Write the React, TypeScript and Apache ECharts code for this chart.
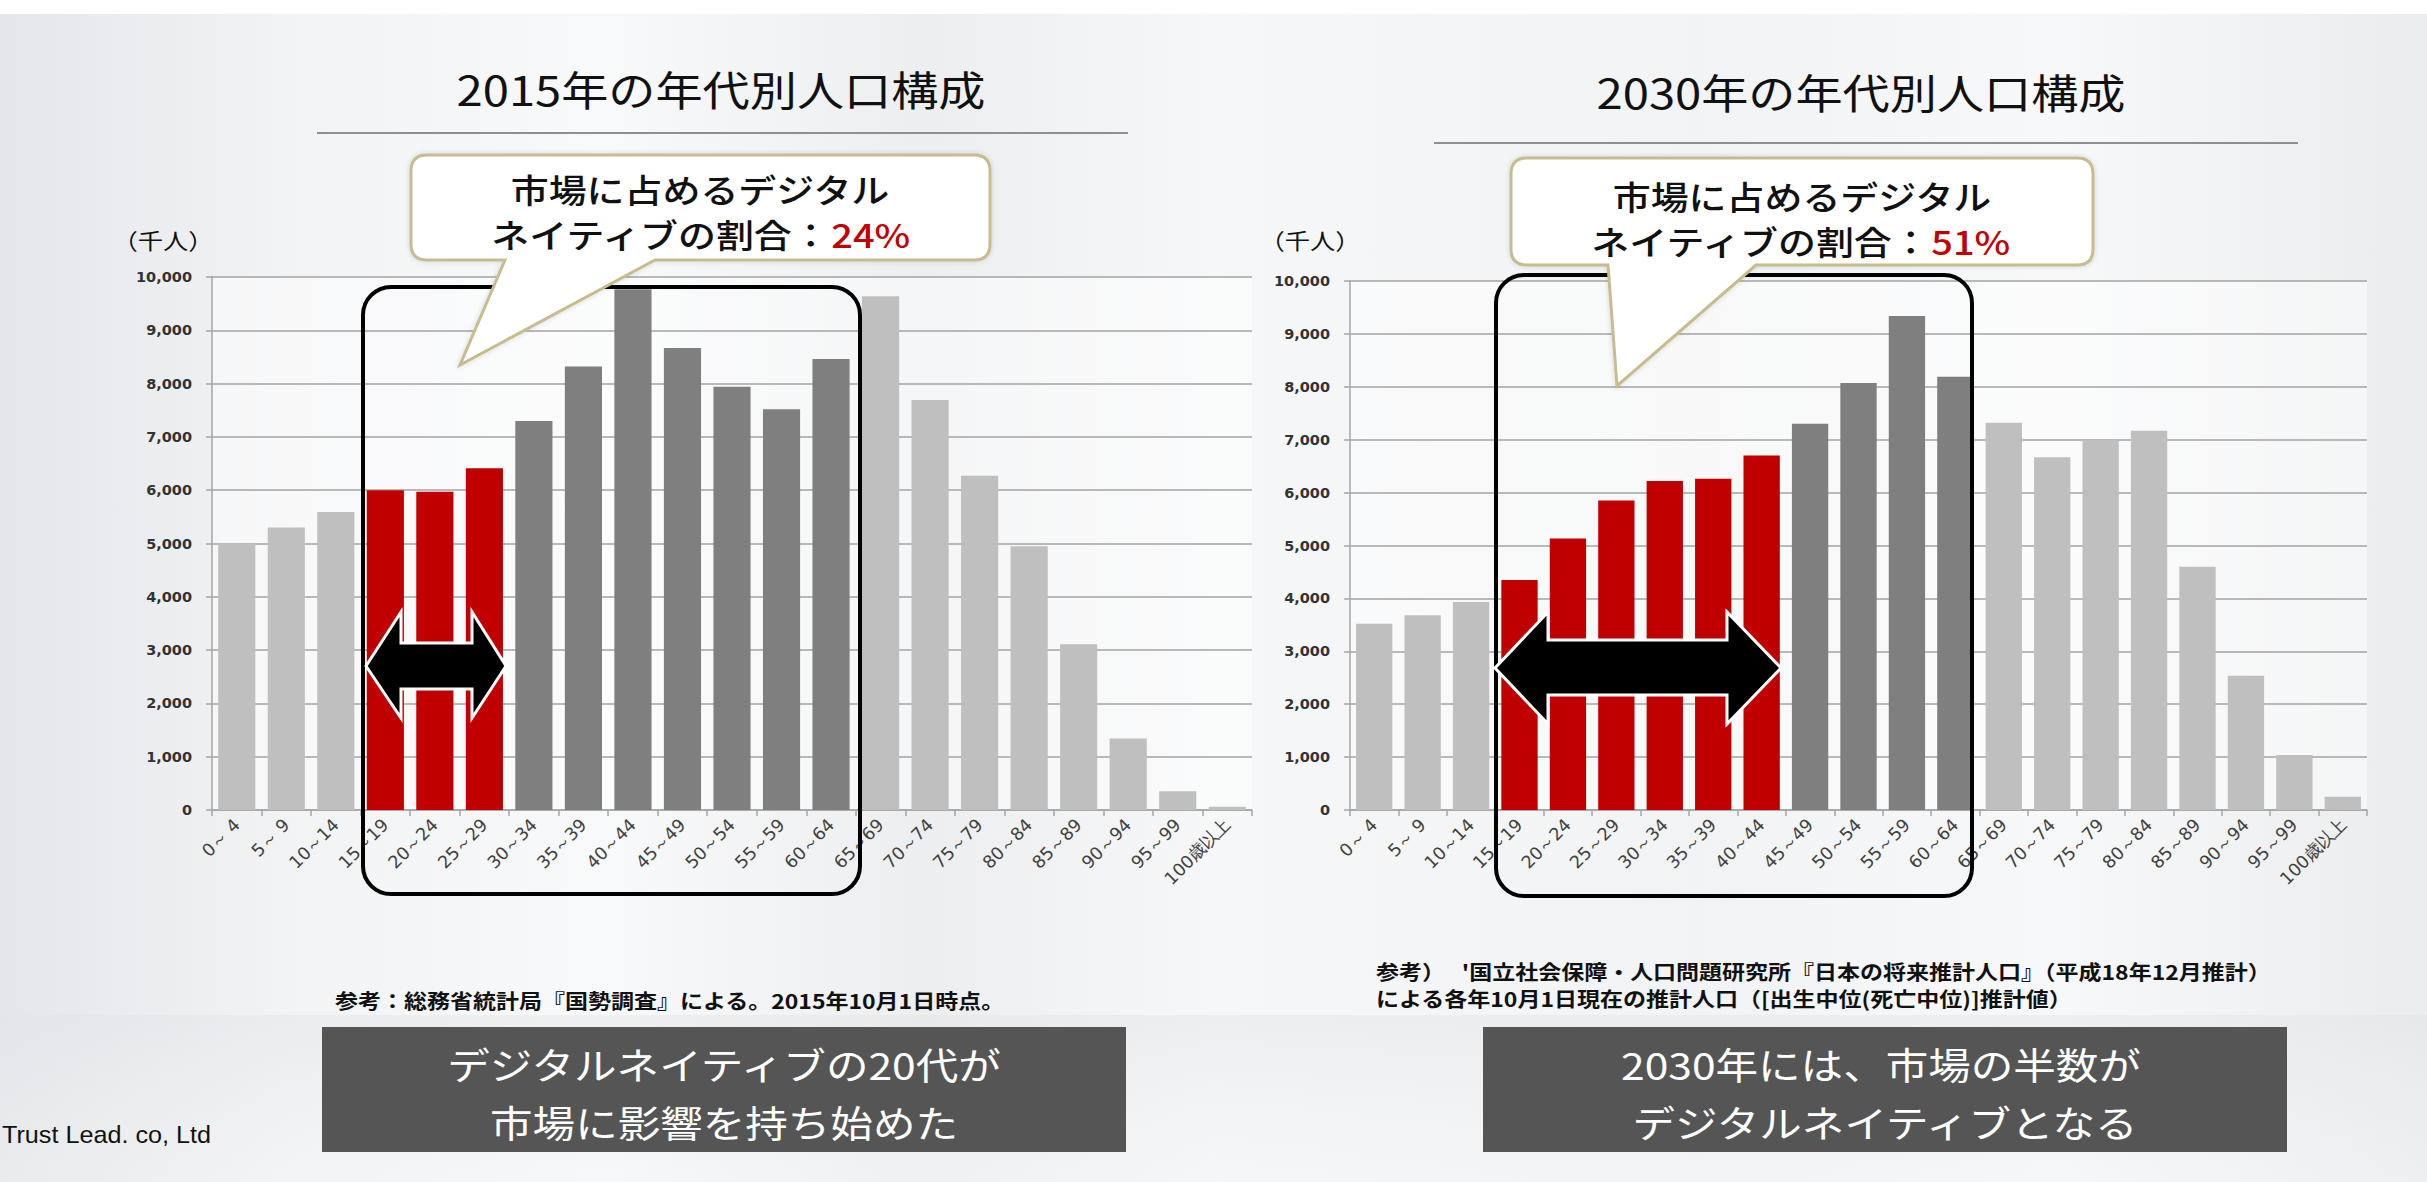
import React, { useEffect, useRef } from "react";
import * as echarts from "echarts";

// ---------- data ----------
const ageGroups = [
  "0～ 4", "5～ 9", "10～14", "15～19", "20～24", "25～29", "30～34",
  "35～39", "40～44", "45～49", "50～54", "55～59", "60～64", "65～69",
  "70～74", "75～79", "80～84", "85～89", "90～94", "95～99", "100歳以上",
];
const population2015 = [
  5000, 5300, 5590, 6000, 5970, 6410, 7300, 8320, 9770, 8670, 7940,
  7520, 8460, 9640, 7690, 6270, 4950, 3110, 1340, 350, 60,
];
const population2030 = [
  3520, 3680, 3930, 4350, 5130, 5850, 6220, 6260, 6700, 7300, 8070,
  9340, 8190, 7320, 6670, 7000, 7170, 4600, 2540, 1040, 250,
];
// index ranges (inclusive) of highlighted groups
const digitalNative2015 = [3, 5];
const workingCore2015 = [6, 12];
const digitalNative2030 = [3, 8];
const workingCore2030 = [9, 12];
const yMin = 0;
const yMax = 10000;
const yStep = 1000;

const titles = ["2015年の年代別人口構成", "2030年の年代別人口構成"];
const shares = ["24%", "51%"];
const conclusions = [
  ["デジタルネイティブの20代が", "市場に影響を持ち始めた"],
  ["2030年には、市場の半数が", "デジタルネイティブとなる"],
];
const sourceLeft = "参考：総務省統計局『国勢調査』による。2015年10月1日時点。";
const sourceRight = [
  "参考）　 '国立社会保障・人口問題研究所『日本の将来推計人口』（平成18年12月推計）",
  "による各年10月1日現在の推計人口（[出生中位(死亡中位)]推計値）",
];

// ---------- style ----------
const RED = "#c00000";
const DARK = "#7f7f7f";
const LIGHT = "#bfbfbf";
const JP = '"Noto Sans CJK JP", "Noto Sans", sans-serif';
const AX = '"DejaVu Sans", Verdana, sans-serif';
const SX = 1.15;

function bubblePath(x0: number, y0: number, x1: number, y1: number, r: number,
  t0: number, t1: number, tx: number, ty: number) {
  return `M${x0 + r} ${y0} H${x1 - r} Q${x1} ${y0} ${x1} ${y0 + r} V${y1 - r} Q${x1} ${y1} ${x1 - r} ${y1} H${t1} L${tx} ${ty} L${t0} ${y1} H${x0 + r} Q${x0} ${y1} ${x0} ${y1 - r} V${y0 + r} Q${x0} ${y0} ${x0 + r} ${y0} Z`;
}

echarts.graphic.registerShape(
  "bubbleLeft",
  echarts.graphic.extendPath(bubblePath(411, 155, 990, 260, 16, 505, 655, 460, 365), {})
);
echarts.graphic.registerShape(
  "bubbleRight",
  echarts.graphic.extendPath(bubblePath(1511, 158, 2093, 265, 16, 1608, 1756, 1617, 386), {})
);

function colorFor(i: number, nat: number[], work: number[]) {
  if (i >= nat[0] && i <= nat[1]) return RED;
  if (i >= work[0] && i <= work[1]) return DARK;
  return LIGHT;
}

function txt(x: number, y: number, text: string, size: number, o: any = {}) {
  const align = o.align || "center";
  return {
    type: "text",
    x,
    y,
    scaleX: o.scaleX ?? SX,
    z: o.z ?? 95,
    style: {
      text,
      fontSize: size,
      fontFamily: o.family || JP,
      fontWeight: o.weight || "normal",
      fill: o.fill || "#111",
      align,
      textAlign: align,
      verticalAlign: "middle",
      textVerticalAlign: "middle",
      rich: o.rich,
    },
  };
}

function makeX(gridIndex: number) {
  return {
    type: "category",
    gridIndex,
    data: ageGroups,
    axisLine: { show: true, lineStyle: { color: "#a6a6a6", width: 1.5 } },
    axisTick: { show: true, length: 6, lineStyle: { color: "#a6a6a6", width: 1.5 } },
    axisLabel: {
      rotate: 45,
      interval: 0,
      margin: 12,
      fontFamily: AX,
      fontSize: 17.5,
      color: "#404040",
    },
  };
}

function makeY(gridIndex: number) {
  return {
    type: "value",
    gridIndex,
    min: yMin,
    max: yMax,
    interval: yStep,
    axisLine: { show: true, lineStyle: { color: "#a6a6a6", width: 1.5 } },
    axisTick: { show: true, length: 6, lineStyle: { color: "#a6a6a6", width: 1.5 } },
    splitLine: { show: true, lineStyle: { color: "#a3a3a3", width: 1.5 } },
    axisLabel: {
      margin: 20,
      fontFamily: AX,
      fontWeight: "bold",
      fontSize: 14.5,
      color: "#333333",
      formatter: (v: number) => v.toLocaleString("en-US"),
    },
  };
}

export default function App() {
  const ref = useRef<HTMLDivElement>(null);

  useEffect(() => {
    if (!ref.current) return;
    const chart = echarts.init(ref.current, undefined, { renderer: "svg" });

    const bg = {
      type: "rect",
      z: -10,
      shape: { x: 0, y: 0, width: 2427, height: 1182 },
      style: {
        fill: new echarts.graphic.LinearGradient(0, 0, 1, 0, [
          { offset: 0, color: "#e4e6e9" },
          { offset: 0.12, color: "#f2f3f5" },
          { offset: 0.25, color: "#f8f9fa" },
          { offset: 0.38, color: "#eceef0" },
          { offset: 0.5, color: "#f6f7f8" },
          { offset: 0.7, color: "#f2f3f4" },
          { offset: 0.85, color: "#f7f8f9" },
          { offset: 1, color: "#eaecee" },
        ]),
      },
    };
    const topBand = {
      type: "rect",
      z: -9,
      shape: { x: 0, y: 0, width: 2427, height: 14 },
      style: { fill: "#ffffff" },
    };
    const bottomBand = {
      type: "rect",
      z: -9,
      shape: { x: 0, y: 1015, width: 2427, height: 167 },
      style: {
        fill: new echarts.graphic.LinearGradient(0, 0, 0, 1, [
          { offset: 0, color: "rgba(225,227,230,0.45)" },
          { offset: 1, color: "rgba(245,246,247,0.3)" },
        ]),
      },
    };

    const titleLine = (x1: number, x2: number, y: number) => ({
      type: "line",
      z: 60,
      shape: { x1, y1: y, x2, y2: y },
      style: { stroke: "#8f8f8f", lineWidth: 2 },
    });

    const frame = (x: number, y: number, w: number, h: number) => ({
      type: "rect",
      z: 80,
      shape: { x, y, width: w, height: h, r: 28 },
      style: { fill: "none", stroke: "#000", lineWidth: 4 },
    });

    const arrow = (pts: number[][]) => ({
      type: "polygon",
      z: 85,
      shape: { points: pts },
      style: { fill: "#000", stroke: "#fff", lineWidth: 3 },
    });

    const bubbleStyle = {
      fill: "#ffffff",
      stroke: "#c8bc8e",
      lineWidth: 3,
      shadowBlur: 5,
      shadowColor: "rgba(0,0,0,0.15)",
    };

    const box = (x: number, y: number, w: number, h: number) => ({
      type: "rect",
      z: 60,
      shape: { x, y, width: w, height: h },
      style: { fill: "#555555" },
    });

    const elements: any[] = [
      bg,
      topBand,
      bottomBand,
      txt(721, 88, titles[0], 41),
      txt(1861, 91, titles[1], 41),
      titleLine(317, 1128, 133),
      titleLine(1434, 2298, 143),
      txt(163, 240, "（千人）", 22),
      txt(1310, 240, "（千人）", 22),
      frame(363, 287, 497, 607),
      frame(1496, 275, 476, 621),
      arrow([[366, 666], [401, 612], [401, 643], [472, 643], [472, 612], [506, 666], [472, 718], [472, 689], [401, 689], [401, 718]]),
      arrow([[1495, 668], [1548, 612], [1548, 640], [1727, 640], [1727, 612], [1781, 668], [1727, 724], [1727, 695], [1548, 695], [1548, 724]]),
      { type: "bubbleLeft", x: 0, y: 0, z: 90, style: bubbleStyle },
      { type: "bubbleRight", x: 0, y: 0, z: 90, style: bubbleStyle },
      txt(700, 189, "市場に占めるデジタル", 33, { weight: 500 }),
      txt(700, 234, `ネイティブの割合：{r|${shares[0]}}`, 33, {
        weight: 500,
        rich: { r: { fill: RED, fontSize: 33, fontFamily: JP, fontWeight: 500 } },
      }),
      txt(1802, 196, "市場に占めるデジタル", 33, { weight: 500 }),
      txt(1800, 241, `ネイティブの割合：{r|${shares[1]}}`, 33, {
        weight: 500,
        rich: { r: { fill: RED, fontSize: 33, fontFamily: JP, fontWeight: 500 } },
      }),
      txt(335, 1000, sourceLeft, 20, { align: "left", weight: "bold" }),
      txt(1376, 971, sourceRight[0], 20, { align: "left", weight: "bold" }),
      txt(1376, 998, sourceRight[1], 20, { align: "left", weight: "bold" }),
      box(322, 1027, 804, 125),
      box(1483, 1027, 804, 125),
      txt(724, 1064, conclusions[0][0], 37, { fill: "#ffffff" }),
      txt(724, 1122, conclusions[0][1], 37, { fill: "#ffffff" }),
      txt(1881, 1064, conclusions[1][0], 37, { fill: "#ffffff" }),
      txt(1885, 1122, conclusions[1][1], 37, { fill: "#ffffff" }),
      txt(2, 1135, "Trust Lead. co, Ltd", 24, {
        align: "left",
        family: '"Liberation Sans", Arial, sans-serif',
        scaleX: 1.05,
        fill: "#111",
      }),
    ];

    const option: any = {
      animation: false,
      graphic: { elements },
      grid: [
        { left: 212, top: 277, width: 1040, height: 533, show: true, backgroundColor: "rgba(255,255,255,0.45)", borderWidth: 0 },
        { left: 1350, top: 281, width: 1017, height: 529, show: true, backgroundColor: "rgba(255,255,255,0.45)", borderWidth: 0 },
      ],
      xAxis: [makeX(0), makeX(1)],
      yAxis: [makeY(0), makeY(1)],
      series: [
        {
          type: "bar",
          xAxisIndex: 0,
          yAxisIndex: 0,
          data: population2015,
          barCategoryGap: "25%",
          itemStyle: { color: (p: any) => colorFor(p.dataIndex, digitalNative2015, workingCore2015) },
        },
        {
          type: "bar",
          xAxisIndex: 1,
          yAxisIndex: 1,
          data: population2030,
          barCategoryGap: "25%",
          itemStyle: { color: (p: any) => colorFor(p.dataIndex, digitalNative2030, workingCore2030) },
        },
      ],
    };

    chart.setOption(option);
    return () => chart.dispose();
  }, []);

  return (
    <div
      ref={ref}
      style={{ position: "fixed", left: 0, top: 0, width: 2427, height: 1182, background: "#fff" }}
    />
  );
}
